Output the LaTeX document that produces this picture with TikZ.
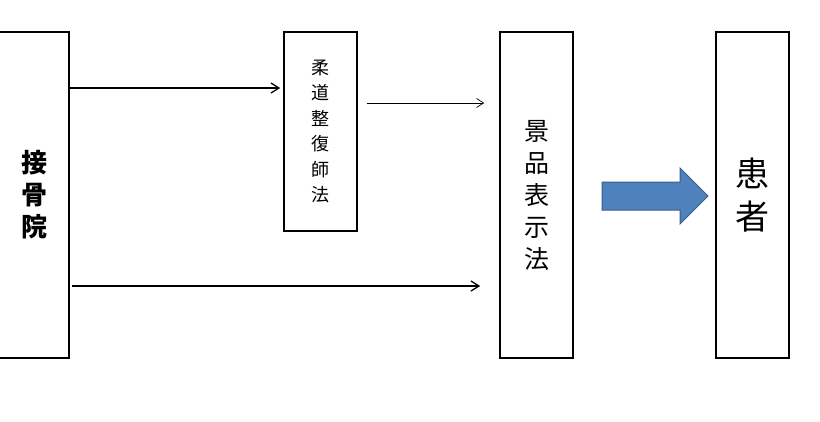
\documentclass[tikz,border=0pt]{standalone}
\usepackage{fontspec}
\setmainfont{Noto Sans CJK JP}
\usepackage{tikz}
\usetikzlibrary{arrows.meta}

\definecolor{arrowblue}{RGB}{79,129,189}
\definecolor{arrowedge}{RGB}{56,93,138}

\tikzset{
	box/.style={draw, line width=1.6pt, rectangle, align=center, inner sep=0pt},
	link/.style={-{Straight Barb[length=8pt,width=10pt]}, line width=1.3pt},
	thinlink/.style={-{Straight Barb[length=7pt,width=9pt]}, line width=0.7pt}
}

\begin{document}
\begin{tikzpicture}[x=1pt, y=-1pt]
	
	\useasboundingbox (0,0) rectangle (820,421);
	
	\node[box, minimum width=70pt, minimum height=326pt, font=\fontsize{26}{32}\selectfont\bfseries] (hosp) at (34,195) {接\\骨\\院};
	\node[box, minimum width=73pt, minimum height=199pt, font=\fontsize{18}{25.5}\selectfont] (judo) at (320.5,131.5) {柔\\道\\整\\復\\師\\法};
	\node[box, minimum width=73pt, minimum height=326pt, font=\fontsize{25}{32}\selectfont] (keihin) at (536.5,195) {景\\品\\表\\示\\法};
	\node[box, minimum width=73pt, minimum height=326pt, font=\fontsize{34}{43}\selectfont] (patient) at (752.5,195) {患\\者};
	
	\draw[link, shorten >=3pt] (hosp.east |- 0,88) -- (judo.west |- 0,88);
	\draw[thinlink, shorten <=9pt, shorten >=15pt] (judo.east |- 0,103) -- (keihin.west |- 0,103);
	\draw[link, shorten <=2pt, shorten >=19pt] (hosp.east |- 0,286) -- (keihin.west |- 0,286);
	
	\filldraw[fill=arrowblue, draw=arrowedge, line width=1pt] (602,182) -- (680,182) -- (680,168) -- (708,196) -- (680,224) -- (680,210) -- (602,210) -- cycle;
	
\end{tikzpicture}
\end{document}
